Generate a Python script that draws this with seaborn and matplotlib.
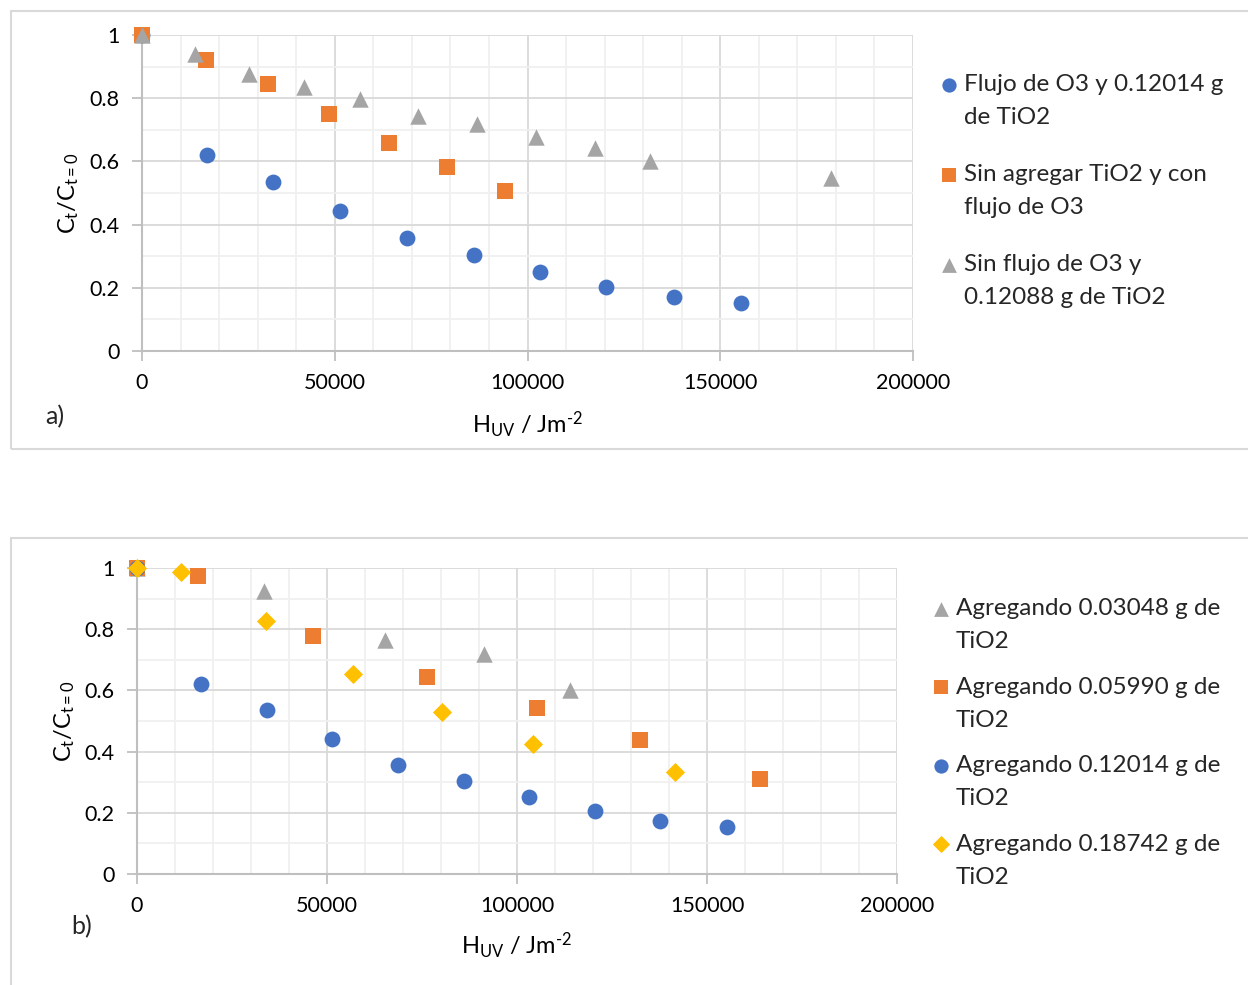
import matplotlib
matplotlib.use("Agg")
import matplotlib.pyplot as plt
import seaborn as sns
import pandas as pd
from matplotlib.patches import Rectangle
from matplotlib.ticker import MultipleLocator, FuncFormatter

# ---------------- data: panel a ----------------
a_blue_x = [0, 16860, 33980, 51360, 68740, 86120, 103250, 120370, 138010, 155380]
a_blue_y = [1.0, 0.620, 0.535, 0.443, 0.358, 0.304, 0.250, 0.203, 0.171, 0.152]
a_orange_x = [0, 16600, 32680, 48500, 64070, 79110, 94150]
a_orange_y = [1.0, 0.921, 0.845, 0.750, 0.658, 0.582, 0.506]
a_gray_x = [0, 13750, 27760, 42020, 56550, 71590, 86900, 102200, 117500, 131800, 178700]
a_gray_y = [1.0, 0.940, 0.877, 0.835, 0.797, 0.744, 0.718, 0.677, 0.642, 0.601, 0.547]
a_labels = ["Flujo de O3 y 0.12014 g\nde TiO2",
            "Sin agregar TiO2 y con\nflujo de O3",
            "Sin flujo de O3 y\n0.12088 g de TiO2"]

# ---------------- data: panel b ----------------
b_gray_x = [0, 33430, 65270, 91330, 113900]
b_gray_y = [1.0, 0.925, 0.765, 0.719, 0.601]
b_orange_x = [0, 16060, 46320, 76330, 105300, 132400, 164000]
b_orange_y = [1.0, 0.974, 0.778, 0.644, 0.542, 0.438, 0.310]
b_blue_x = [0, 16840, 34220, 51320, 68700, 86070, 103200, 120500, 137700, 155300]
b_blue_y = [1.0, 0.621, 0.536, 0.441, 0.356, 0.304, 0.252, 0.206, 0.173, 0.154]
b_yellow_x = [0, 11580, 33950, 56850, 80280, 104200, 141600]
b_yellow_y = [1.0, 0.987, 0.827, 0.654, 0.529, 0.425, 0.333]
b_labels = ["Agregando 0.03048 g de\nTiO2",
            "Agregando 0.05990 g de\nTiO2",
            "Agregando 0.12014 g de\nTiO2",
            "Agregando 0.18742 g de\nTiO2"]

BLUE, ORANGE, GRAY, YELLOW = "#4472C4", "#ED7D31", "#A5A5A5", "#FFC000"

sns.set_theme(style="white")
plt.rcParams["font.family"] = ["Lato", "DejaVu Sans"]
plt.rcParams["mathtext.fontset"] = "custom"
plt.rcParams["mathtext.rm"] = "Lato"
plt.rcParams["mathtext.it"] = "Lato"

W, H = 1248, 985
fig = plt.figure(figsize=(W / 100, H / 100), dpi=100)
fig.patch.set_facecolor("white")

# panel frames
fig.patches.append(Rectangle((11 / W, 1 - 449 / H), 1.0, (449 - 11) / H, transform=fig.transFigure,
                             fill=False, edgecolor="#D9D9D9", linewidth=1.5, zorder=0))
fig.patches.append(Rectangle((11 / W, -0.05), 1.0, 0.05 + (985 - 538) / H, transform=fig.transFigure,
                             fill=False, edgecolor="#D9D9D9", linewidth=1.5, zorder=0))

def px_axes(l, r, t, b):
    return fig.add_axes([l / W, 1 - b / H, (r - l) / W, (b - t) / H])

ax1 = px_axes(142, 913, 35, 351)
ax2 = px_axes(137, 897, 568, 874)

def series(ax, x, y, color, marker, label, s):
    df = pd.DataFrame({"x": x, "y": y})
    sns.scatterplot(data=df, x="x", y="y", ax=ax, color=color, marker=marker, s=s,
                    linewidth=0, label=label, clip_on=False, zorder=3)

S_O, S_S, S_T, S_D = 130, 135, 140, 95

series(ax1, a_blue_x, a_blue_y, BLUE, "o", a_labels[0], S_O)
series(ax1, a_orange_x, a_orange_y, ORANGE, "s", a_labels[1], S_S)
series(ax1, a_gray_x, a_gray_y, GRAY, "^", a_labels[2], S_T)

series(ax2, b_gray_x, b_gray_y, GRAY, "^", b_labels[0], S_T)
series(ax2, b_orange_x, b_orange_y, ORANGE, "s", b_labels[1], S_S)
series(ax2, b_blue_x, b_blue_y, BLUE, "o", b_labels[2], S_O)
series(ax2, b_yellow_x, b_yellow_y, YELLOW, "D", b_labels[3], S_D)

fmt = FuncFormatter(lambda v, p: ("%g" % round(v, 6)))

for ax in (ax1, ax2):
    ax.set_xlim(0, 200000)
    ax.set_ylim(0, 1)
    ax.xaxis.set_major_locator(MultipleLocator(50000))
    ax.xaxis.set_minor_locator(MultipleLocator(10000))
    ax.yaxis.set_major_locator(MultipleLocator(0.2))
    ax.yaxis.set_minor_locator(MultipleLocator(0.1))
    ax.xaxis.set_major_formatter(FuncFormatter(lambda v, p: "%d" % int(round(v))))
    ax.yaxis.set_major_formatter(fmt)
    ax.grid(which="major", color="#D9D9D9", linewidth=1.3, zorder=0)
    ax.grid(which="minor", color="#F0F0F0", linewidth=1.3, zorder=0)
    ax.set_axisbelow(True)
    for side in ("top", "right"):
        ax.spines[side].set_visible(False)
    for side in ("left", "bottom"):
        ax.spines[side].set_color("#BFBFBF")
        ax.spines[side].set_linewidth(1.5)
    ax.tick_params(which="major", direction="out", length=7, width=1.3, color="#BFBFBF",
                   labelsize=15.5, labelcolor="black", pad=9, left=True, bottom=True)
    ax.tick_params(which="minor", length=0)
    ax.set_xlabel(r"H$_{\mathregular{UV}}$ / Jm$^{\text{-2}}$", fontsize=17, color="black")
    ax.set_ylabel(r"C$_{\mathregular{t}}$/C$_{\mathregular{t=0}}$", fontsize=17, color="black")

ax1.yaxis.set_label_coords((81 - 142) / 771, 0.5)
ax1.xaxis.set_label_coords(0.5, (351 - 410) / 316)
ax2.yaxis.set_label_coords((77 - 137) / 760, 0.5)
ax2.xaxis.set_label_coords(0.5, (874 - 931) / 306)

fig.text(55 / W, 1 - 417 / H, "a)", fontsize=18, ha="center", va="center")
fig.text(82 / W, 1 - 927 / H, "b)", fontsize=18, ha="center", va="center")

def make_legend(ax, x0, y0, spacing):
    leg = ax.legend(loc="upper left", bbox_to_anchor=(x0 / W, 1 - y0 / H),
                    bbox_transform=fig.transFigure, frameon=False, fontsize=17.5,
                    handlelength=0.6, handletextpad=0.3, labelspacing=spacing,
                    borderpad=0, borderaxespad=0, markerscale=0.9)
    for t in leg.get_texts():
        t.set_linespacing(1.72)
    for col in leg._legend_handle_box.get_children():
        for row in col.get_children():
            row.align = "top"
    return leg

make_legend(ax1, 942, 74, 1.47)
make_legend(ax2, 934, 598, 1.0)

fig.savefig("out.png", dpi=100, facecolor="white")
